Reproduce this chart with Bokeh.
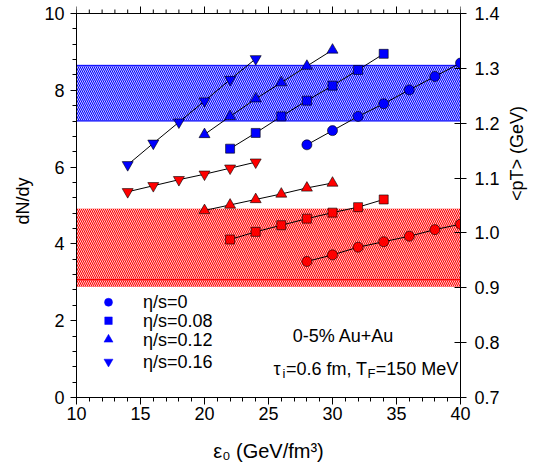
import math
from bokeh.plotting import figure
from bokeh.models import Range1d, LinearAxis, FixedTicker, Label, PrintfTickFormatter
from bokeh.embed import file_html
from bokeh.resources import INLINE

FONT = "Liberation Sans"

# ---------------- data ----------------
eps_s0 = [28, 30, 32, 34, 36, 38, 40]
eps_s008 = [22, 24, 26, 28, 30, 32, 34]
eps_s012 = [20, 22, 24, 26, 28, 30]
eps_s016 = [14, 16, 18, 20, 22, 24]

dndy_s0 = [6.58, 6.95, 7.32, 7.65, 8.01, 8.36, 8.71]
dndy_s008 = [6.48, 6.89, 7.32, 7.73, 8.12, 8.53, 8.95]
dndy_s012 = [6.85, 7.32, 7.78, 8.20, 8.63, 9.05]
dndy_s016 = [6.06, 6.62, 7.17, 7.72, 8.28, 8.82]

pt_s0 = [0.948, 0.960, 0.974, 0.984, 0.994, 1.006, 1.016]
pt_s008 = [0.988, 1.002, 1.014, 1.026, 1.037, 1.047, 1.061]
pt_s012 = [1.041, 1.051, 1.061, 1.071, 1.082, 1.091]
pt_s016 = [1.075, 1.086, 1.097, 1.107, 1.118, 1.129]

band_dndy = [7.2, 8.65]
band_pt = [0.902, 1.044]
band_pt_edge = [0.915]

series_labels = ["η/s=0", "η/s=0.08", "η/s=0.12", "η/s=0.16"]
series_markers = ["circle", "square", "triangle", "inverted_triangle"]

x_lim = [10, 40]
y_lim = [0, 10]
pt_lim = [0.7, 1.4]
x_major = [10, 15, 20, 25, 30, 35, 40]
x_minor = list(range(10, 41))
y_major = [0, 2, 4, 6, 8, 10]
y_minor = [round(0.4 * i, 1) for i in range(0, 26)]
pt_major = [0.7, 0.8, 0.9, 1.0, 1.1, 1.2, 1.3, 1.4]

# ---------------- layout ----------------
W, H = 545, 469
B_LEFT, B_RIGHT, B_TOP, B_BOTTOM = 76, 85, 4, 72
FRAME_H = H - B_TOP - B_BOTTOM          # 393
TOP_PAD = 9                              # px above y=10 inside frame (room for top ticks)
ytop = y_lim[1] * FRAME_H / (FRAME_H - TOP_PAD)
px_per_y = FRAME_H / ytop
pt_per_y = (pt_lim[1] - pt_lim[0]) / (y_lim[1] - y_lim[0])

p = figure(width=W, height=H,
           x_range=Range1d(x_lim[0], x_lim[1]), y_range=Range1d(y_lim[0], ytop),
           output_backend="svg", toolbar_location=None,
           min_border_left=B_LEFT, min_border_right=B_RIGHT,
           min_border_top=B_TOP, min_border_bottom=B_BOTTOM)
p.extra_y_ranges = {"pt": Range1d(pt_lim[0], pt_lim[0] + ytop * pt_per_y)}
p.xgrid.visible = False
p.ygrid.visible = False
p.outline_line_color = None
p.background_fill_color = "white"


def style_axis(ax):
    ax.axis_line_color = "black"
    ax.axis_line_width = 1
    ax.major_tick_line_color = "black"
    ax.minor_tick_line_color = "black"
    ax.major_label_text_font = FONT
    ax.major_label_text_font_size = "18px"
    ax.major_label_text_color = "black"
    ax.axis_label_text_font = FONT
    ax.axis_label_text_font_size = "18px"
    ax.axis_label_text_font_style = "normal"
    ax.axis_label_text_color = "black"


# bottom
xb = p.xaxis[0]
style_axis(xb)
xb.ticker = FixedTicker(ticks=x_major, minor_ticks=x_minor)
xb.major_tick_in = 0
xb.major_tick_out = 7
xb.minor_tick_in = 0
xb.minor_tick_out = 4
xb.major_label_standoff = 2
xb.axis_label = "ε₀ (GeV/fm³)"
xb.axis_label_text_font_size = "20px"
xb.axis_label_standoff = 17

# left
yl = p.yaxis[0]
style_axis(yl)
yl.bounds = (y_lim[0], y_lim[1])
yl.ticker = FixedTicker(ticks=y_major, minor_ticks=y_minor)
yl.major_tick_in = 0
yl.major_tick_out = 6
yl.minor_tick_in = 0
yl.minor_tick_out = 4
yl.major_label_standoff = 6
yl.axis_label = "dN/dy"
yl.axis_label_standoff = 8

# right
yr = LinearAxis(y_range_name="pt", ticker=FixedTicker(ticks=pt_major, minor_ticks=[]),
                formatter=PrintfTickFormatter(format="%.1f"),
                bounds=(pt_lim[0], pt_lim[1]))
style_axis(yr)
yr.major_tick_in = 6
yr.major_tick_out = 6
yr.minor_tick_in = 0
yr.minor_tick_out = 0
yr.major_label_standoff = 8
yr.axis_label = "<pT> (GeV)"
yr.axis_label_standoff = 14
if "axis_label_orientation" in yr.properties():
    yr.axis_label_orientation = math.pi / 2
p.add_layout(yr, "right")

# top spine and ticks (drawn inside the small pad above y=10)
p.segment(x0=[x_lim[0]], x1=[x_lim[1]], y0=[y_lim[1]], y1=[y_lim[1]],
          line_color="black", line_width=1.2)
p.segment(x0=x_minor, x1=x_minor, y0=[y_lim[1]] * len(x_minor),
          y1=[y_lim[1] + 4 / px_per_y] * len(x_minor), line_color="black", line_width=1)
p.segment(x0=x_major, x1=x_major, y0=[y_lim[1]] * len(x_major),
          y1=[y_lim[1] + 7 / px_per_y] * len(x_major), line_color="black", line_width=1)

# ---------------- bands ----------------
p.quad(left=[x_lim[0]], right=[x_lim[1]], bottom=[band_dndy[0]], top=[band_dndy[1]],
       fill_color="#0000ff", line_color="#0000ff", line_width=1,
       hatch_pattern="left_diagonal_line", hatch_color="white",
       hatch_scale=4, hatch_weight=0.8)
p.quad(left=[x_lim[0]], right=[x_lim[1]], bottom=[band_pt[0]], top=[band_pt[1]],
       y_range_name="pt",
       fill_color="#ff0000", line_color=None,
       hatch_pattern="left_diagonal_line", hatch_color="white",
       hatch_scale=4, hatch_weight=0.8)
p.segment(x0=[x_lim[0]], x1=[x_lim[1]], y0=band_pt_edge, y1=band_pt_edge, y_range_name="pt",
          line_color="#ff0000", line_width=1.2)

# ---------------- series ----------------
eps_all = [eps_s0, eps_s008, eps_s012, eps_s016]
dndy_all = [dndy_s0, dndy_s008, dndy_s012, dndy_s016]
pt_all = [pt_s0, pt_s008, pt_s012, pt_s016]
sizes = {"circle": 10, "square": 9, "triangle": 11, "inverted_triangle": 11}

for eps, d, pt, mk in zip(eps_all, dndy_all, pt_all, series_markers):
    p.line(eps, d, line_color="black", line_width=1)
    p.scatter(eps, d, marker=mk, size=sizes[mk], fill_color="#0000ff",
              line_color="black", line_width=0.6)
    p.line(eps, pt, line_color="black", line_width=1, y_range_name="pt")
    p.scatter(eps, pt, marker=mk, size=sizes[mk], fill_color="#ff0000",
              line_color="black", line_width=0.6, y_range_name="pt")

# ---------------- legend ----------------
leg_x_marker = 12.5
leg_x_text = 15.2
leg_y = [2.48, 2.0, 1.51, 0.93]
leg_sizes = {"circle": 8, "square": 7.5, "triangle": 9, "inverted_triangle": 9}
for lab, mk, ly in zip(series_labels, series_markers, leg_y):
    p.scatter([leg_x_marker], [ly], marker=mk, size=leg_sizes[mk],
              fill_color="#0000ff", line_color="#0000ff", line_width=0.5)
    p.add_layout(Label(x=leg_x_text, y=ly, text=lab, text_font=FONT,
                       text_font_size="18px", text_align="left",
                       text_baseline="middle", text_color="black"))

# ---------------- annotations ----------------
p.add_layout(Label(x=30.86, y=1.61, text="0-5% Au+Au", text_font=FONT,
                   text_font_size="18px", text_align="center",
                   text_baseline="middle", text_color="black"))

ann_x = 25.39
ann_y = 0.755
pieces = [
    ("τ", 0.0, 0, "18px"),
    ("i", 9.0, -5, "13px"),
    ("=0.6 fm, T", 12.4, 0, "18px"),
    ("F", 93.9, -5, "13px"),
    ("=150 MeV", 102.3, 0, "18px"),
]
for txt, dx, dy, fs in pieces:
    p.add_layout(Label(x=ann_x, y=ann_y, x_offset=dx, y_offset=dy, text=txt,
                       text_font=FONT, text_font_size=fs, text_align="left",
                       text_baseline="alphabetic", text_color="black"))

open("out.html", "w").write(file_html(p, INLINE))
